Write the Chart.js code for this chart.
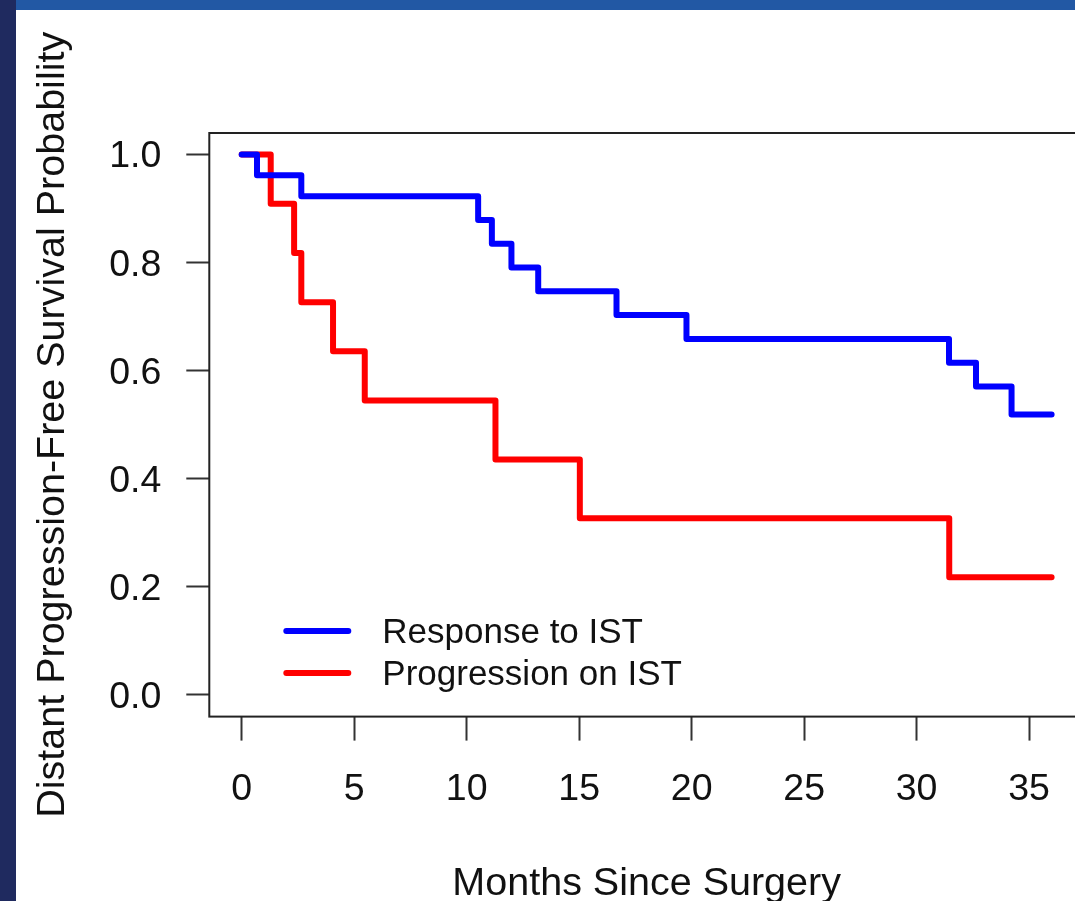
<!DOCTYPE html>
<html><head><meta charset="utf-8">
<script src="https://cdn.jsdelivr.net/npm/chart.js@4.4.1/dist/chart.umd.min.js"></script>
<style>
html,body{margin:0;padding:0;overflow:hidden;background:#fff;width:1075px;height:901px;}
#wrap{position:absolute;left:0;top:0;width:1100px;height:940px;}
#band{position:absolute;left:0;top:0;width:16px;height:901px;background:#1f2a5f;}
#topbar{position:absolute;left:16px;top:0;width:1059px;height:10px;background:#2258a4;}
</style></head><body>
<div id="wrap"><canvas id="c"></canvas></div>
<div id="band"></div><div id="topbar"></div>
<script>
// ---- data ----
const responseMonths = [0, 0.68, 2.65, 10.51, 11.12, 11.99, 13.18, 16.66, 19.77, 31.44, 32.64, 34.22, 36];
const responseSurv   = [1.0, 0.962, 0.923, 0.879, 0.835, 0.791, 0.747, 0.703, 0.659, 0.615, 0.571, 0.519, 0.519];
const progressionMonths = [0, 1.29, 2.33, 2.65, 4.06, 5.47, 11.28, 15.03, 31.45, 36];
const progressionSurv   = [1.0, 0.909, 0.818, 0.727, 0.636, 0.545, 0.436, 0.327, 0.218, 0.218];
const seriesNames = ['Response to IST', 'Progression on IST'];
const xTickValues = [0, 5, 10, 15, 20, 25, 30, 35];
const yTickValues = [0, 0.2, 0.4, 0.6, 0.8, 1.0];
const xTitle = 'Months Since Surgery';
const yTitle = 'Distant Progression-Free Survival Probability';

const toPts = (xs, ys) => xs.map((x, i) => ({x: x, y: ys[i]}));
const FONT = "'Liberation Sans', Arial, Helvetica, sans-serif";

const boxLegend = {
  id: 'boxLegend',
  afterDraw(chart) {
    const {ctx, chartArea: a} = chart;
    ctx.save();
    ctx.strokeStyle = '#222';
    ctx.lineWidth = 2;
    ctx.strokeRect(a.left, a.top, a.right - a.left, a.bottom - a.top);
    // legend
    const lx = a.left + 77, ly = a.top + 498, gap = 42;
    ctx.lineCap = 'round';
    ctx.lineWidth = 6;
    ctx.font = '35px ' + FONT;
    ctx.textBaseline = 'middle';
    ctx.fillStyle = '#111';
    chart.data.datasets.forEach((ds, i) => {
      const y = ly + i * gap;
      ctx.strokeStyle = ds.borderColor;
      ctx.beginPath(); ctx.moveTo(lx, y); ctx.lineTo(lx + 62, y); ctx.stroke();
      ctx.fillText(ds.label, lx + 96, y + 2);
    });
    ctx.restore();
  }
};

new Chart(document.getElementById('c'), {
  type: 'line',
  data: {
    datasets: [
      {label: seriesNames[0], data: toPts(responseMonths, responseSurv), borderColor: '#0000ff'},
      {label: seriesNames[1], data: toPts(progressionMonths, progressionSurv), borderColor: '#ff0000'}
    ].map(d => Object.assign(d, {stepped: true, borderWidth: 6, pointRadius: 0, fill: false,
        borderCapStyle: 'round', borderJoinStyle: 'round', tension: 0}))
  },
  options: {
    responsive: true, maintainAspectRatio: false, animation: false,
    layout: {padding: {top: 133, left: 0, right: 16, bottom: 0}},
    plugins: {legend: {display: false}, tooltip: {enabled: false}},
    scales: {
      x: {
        type: 'linear', min: -1.44, max: 37.44,
        afterBuildTicks: s => { s.ticks = xTickValues.map(v => ({value: v})); },
        afterFit: s => { s.height = 223.4; },
        border: {display: false},
        grid: {display: true, drawOnChartArea: false, drawTicks: true, tickLength: 24, tickWidth: 2, tickColor: '#333'},
        ticks: {padding: 27, maxRotation: 0, autoSkip: false, color: '#111',
          font: {family: FONT, size: 37.5, lineHeight: 1.2}, callback: v => String(v)},
        title: {display: true, text: xTitle, color: '#111',
          font: {family: FONT, size: 39.5, lineHeight: 1}, padding: {top: 0, bottom: 36}}
      },
      y: {
        type: 'linear', min: -0.04, max: 1.04,
        afterBuildTicks: s => { s.ticks = yTickValues.map(v => ({value: v})); },
        afterFit: s => { s.width = 209.3; },
        border: {display: false},
        grid: {display: true, drawOnChartArea: false, drawTicks: true, tickLength: 23, tickWidth: 2, tickColor: '#333'},
        ticks: {padding: 25, labelOffset: 2.5, color: '#111',
          font: {family: FONT, size: 37.5, lineHeight: 1.2}, callback: v => Number(v).toFixed(1)},
        title: {display: true, text: yTitle, color: '#111',
          font: {family: FONT, size: 39.5, lineHeight: 1}, padding: {top: 33, bottom: 0}}
      }
    }
  },
  plugins: [boxLegend]
});
</script>
</body></html>
